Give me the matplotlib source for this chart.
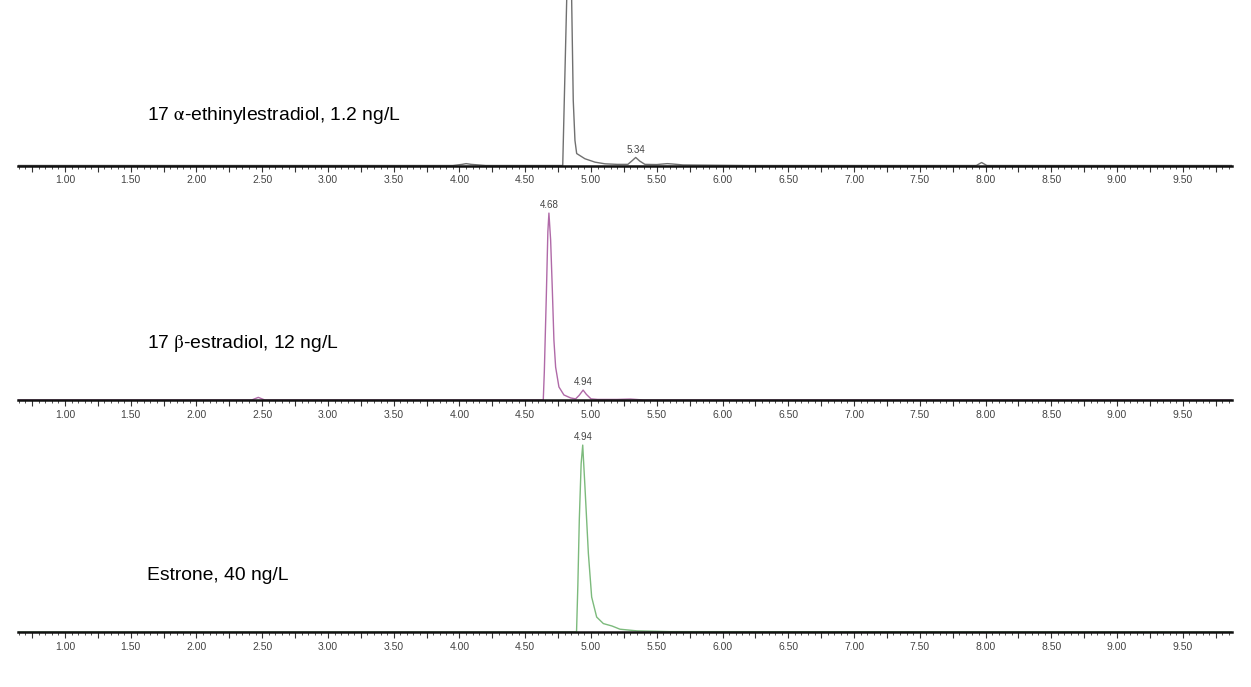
import matplotlib
matplotlib.use("Agg")
import matplotlib.pyplot as plt
from matplotlib.ticker import MultipleLocator, FuncFormatter

plt.rcParams['font.family'] = ['Liberation Sans', 'DejaVu Sans']
plt.rcParams['mathtext.fontset'] = 'stix'

# retention time (min) / relative intensity
t_ee2 = [0.64, 2.50, 3.95, 4.02, 4.05, 4.09, 4.20, 4.785, 4.815, 4.835, 4.853, 4.865,
         4.878, 4.891, 4.954, 5.030, 5.106, 5.20, 5.28, 5.31, 5.34, 5.37, 5.41, 5.50,
         5.58, 5.62, 5.70, 6.20, 7.93, 7.97, 8.01, 9.87]
i_ee2 = [0, 0, 0, 0.6, 1.0, 0.6, 0, 0, 88, 250, 88, 34.8,
         13.4, 6.4, 3.6, 1.8, 0.9, 0.6, 0.6, 2.4, 4.3, 2.4, 0.6, 0.5,
         1.0, 0.8, 0.3, 0, 0, 1.6, 0, 0]

t_e2 = [0.64, 2.42, 2.47, 2.52, 4.60, 4.637, 4.645, 4.66, 4.672, 4.68, 4.693, 4.706,
        4.718, 4.731, 4.756, 4.794, 4.845, 4.883, 4.91, 4.94, 4.965, 5.00, 5.05, 5.20,
        5.30, 5.40, 9.87]
i_e2 = [0, 0, 1.4, 0, 0, 0, 15, 55, 90, 100, 85.6, 58.8,
        32, 17.6, 7, 2.7, 1.1, 0.6, 2.5, 5.3, 3.0, 0.6, 0.3, 0.3,
        0.5, 0, 0]

t_e1 = [0.64, 4.89, 4.90, 4.911, 4.925, 4.937, 4.954, 4.98, 5.005, 5.043, 5.094, 5.16,
        5.22, 5.35, 5.60, 9.87]
i_e1 = [0, 0, 25, 60, 90, 100, 77.6, 42, 18.7, 8, 4.5, 3.2,
        1.5, 0.6, 0.2, 0]

labels = ['17 $\\mathrm{\\alpha}$-ethinylestradiol, 1.2 ng/L',
          '17 $\\mathrm{\\beta}$-estradiol, 12 ng/L',
          'Estrone, 40 ng/L']
peak_marks = [[(5.34, 4.3)], [(4.68, 100), (4.94, 5.3)], [(4.94, 100)]]
colors = ['#707070', '#b06aa8', '#7cba7c']

W, H = 1251, 687
fig = plt.figure(figsize=(W / 100, H / 100), dpi=100)

# (baseline px from top, panel height px, ylim top)
panels = [(165.5, 165.5, 88.5), (400, 200, 107), (632, 200, 107)]
traces = [(t_ee2, i_ee2), (t_e2, i_e2), (t_e1, i_e1)]
label_y = [115, 343, 575]

for k, ((base, hpx, ytop), (t, inten)) in enumerate(zip(panels, traces)):
    ax = fig.add_axes([18 / W, (H - base) / H, 1214 / W, hpx / H])
    ax.patch.set_alpha(0)
    ax.plot(t, inten, color=colors[k], lw=1.0, zorder=2)
    ax.set_xlim(0.643, 9.874)
    ax.set_ylim(0, ytop)
    for s in ['left', 'right', 'top']:
        ax.spines[s].set_visible(False)
    ax.spines['bottom'].set_linewidth(1.8)
    ax.spines['bottom'].set_color('#111111')
    ax.spines['bottom'].set_zorder(3)
    ax.set_yticks([])
    ax.xaxis.set_major_locator(MultipleLocator(0.25))
    ax.xaxis.set_minor_locator(MultipleLocator(0.05))
    ax.xaxis.set_major_formatter(FuncFormatter(
        lambda v, p: '%.2f' % v if abs(v * 2 - round(v * 2)) < 1e-6 else ''))
    ax.tick_params(axis='x', which='major', length=4, width=0.8, pad=3,
                   labelsize=7.5, labelcolor='#444444', color='#333333')
    ax.tick_params(axis='x', which='minor', length=2.5, width=0.6, color='#333333')
    for (px, py) in peak_marks[k]:
        ax.annotate('%.2f' % px, xy=(px, py), xytext=(0, 2), textcoords='offset points',
                    ha='center', va='bottom', fontsize=7, color='#444444')
    fig.text(147 / W, 1 - label_y[k] / H, labels[k], fontsize=13.9, color='black',
             ha='left', va='center')

fig.savefig('out.png', dpi=100)
